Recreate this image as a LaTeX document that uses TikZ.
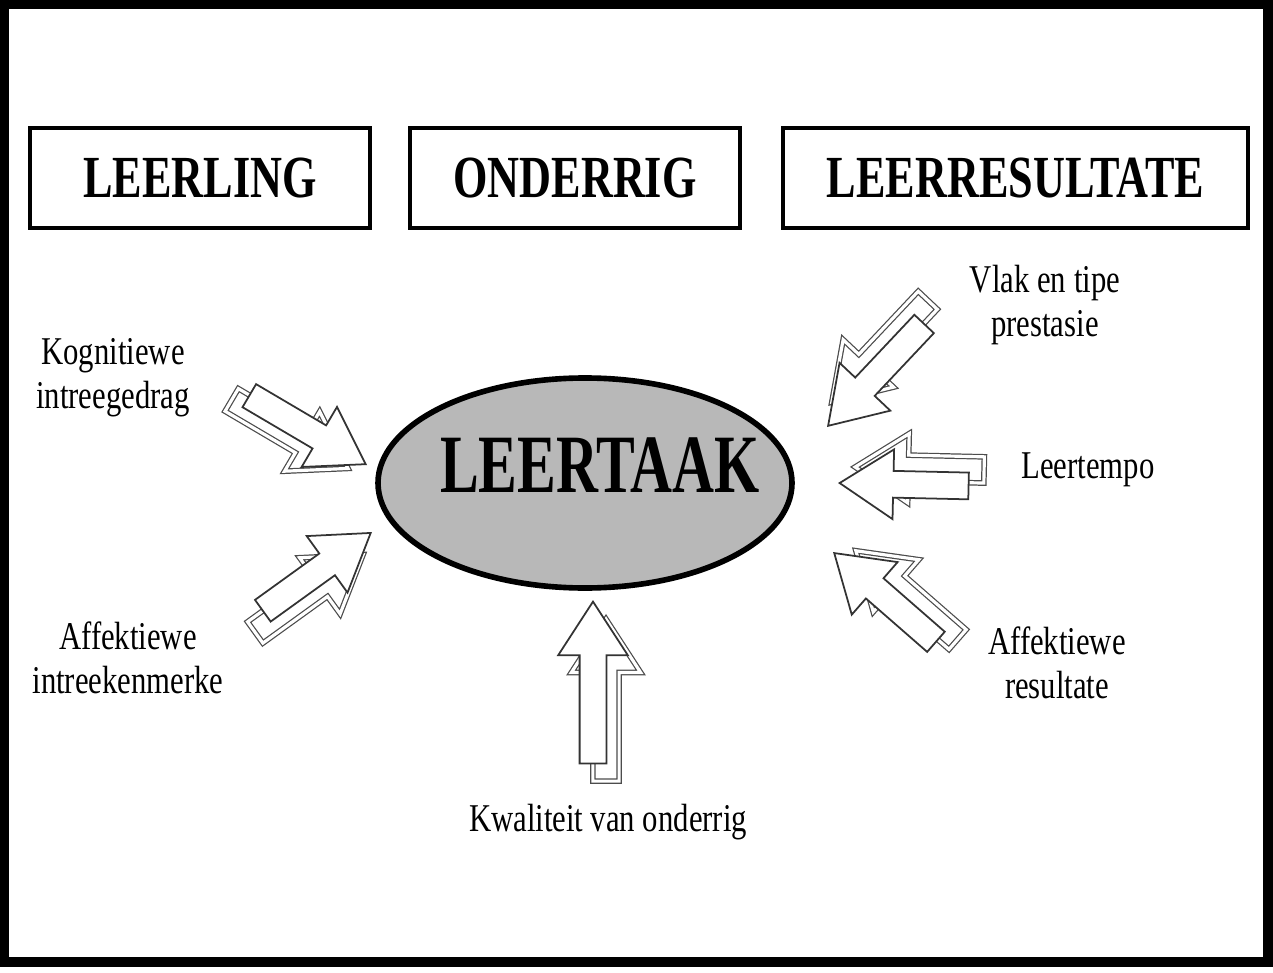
\documentclass[tikz,border=0pt]{standalone}
\usepackage{fontspec}
\setmainfont{Liberation Serif}[FakeStretch=0.78]
\newfontfamily\headfont{Liberation Serif}[FakeStretch=0.74]
\newfontfamily\taakfont{Liberation Serif}[FakeStretch=0.70]
\usetikzlibrary{shapes.geometric,shapes.arrows}
\tikzset{every node/.style={font=\fontsize{11.2}{12.6}\selectfont},
 headbox/.style={draw,line width=1.4pt,minimum height=1.0cm,font=\headfont\bfseries\fontsize{17}{20}\selectfont},
 factor/.style={align=center},
 blockarrow/.style={single arrow,draw=black!80,fill=white,line width=.5pt,inner xsep=0pt,inner ysep=.125cm,
  minimum width=.68cm,single arrow head extend=.215cm,single arrow tip angle=66,minimum height=#1,anchor=tip},
 blockback/.style={blockarrow=#1,draw=black!70,double,double distance=.9pt,line width=.35pt}}

\begin{document}
\begin{tikzpicture}

\path[use as bounding box] (0,0) rectangle (12.73,9.72);
\draw[line width=2.6pt] (0.045,0.10) rectangle (12.68,9.675);

\node[headbox,minimum width=3.40cm] (leerling) at (2.00,7.94) {LEERLING};
\node[headbox,minimum width=3.30cm] (onderrig) at (5.75,7.94) {ONDERRIG};
\node[headbox,minimum width=4.65cm] (resultate) at (10.155,7.94) {LEERRESULTATE};

\node[ellipse,draw,line width=1.6pt,fill=black!28,minimum width=4.14cm,minimum height=2.10cm] (taak) at (5.85,4.89) {};
\node[font=\taakfont\bfseries\fontsize{23.6}{28}\selectfont] (taaktext) at (6.0,5.07) {LEERTAAK};

\node[factor] (kog) at (1.13,5.94) {Kognitiewe\\intreegedrag};
\node[factor] (affin) at (1.28,3.14) {Affektiewe\\intreekenmerke};
\node[factor] (kwal) at (6.08,1.50) {Kwaliteit van onderrig};
\node[factor] (vlak) at (10.45,6.67) {Vlak en tipe\\prestasie};
\node[factor] (tempo) at (10.88,5.02) {Leertempo};
\node[factor] (affres) at (10.57,3.09) {Affektiewe\\resultate};

% back copies
\node[blockback=1.35cm,rotate=-30.5] (kogback) at (3.49,5.03) {};
\node[blockback=1.33cm,rotate=35.8] (affinback) at (3.64,4.18) {};
\node[blockback=1.62cm,rotate=90] (kwalback) at (6.06,3.54) {};
\node[blockback=1.40cm,rotate=226.7] (vlakback) at (8.31,5.69) {};
\node[blockback=1.29cm,rotate=178.7] (tempoback) at (8.54,5.05) {};
\node[blockback=1.35cm,rotate=138.9] (affresback) at (8.55,4.22) {};

% front arrows
\node[blockarrow=1.35cm,rotate=-30.5] (kogarrow) at (3.67,5.07) {};
\node[blockarrow=1.33cm,rotate=35.8] (affinarrow) at (3.72,4.40) {};
\node[blockarrow=1.62cm,rotate=90] (kwalarrow) at (5.93,3.72) {};
\node[blockarrow=1.40cm,rotate=226.7] (vlakarrow) at (8.27,5.45) {};
\node[blockarrow=1.29cm,rotate=178.7] (tempoarrow) at (8.38,4.89) {};
\node[blockarrow=1.35cm,rotate=138.9] (affresarrow) at (8.33,4.20) {};

\end{tikzpicture}
\end{document}
